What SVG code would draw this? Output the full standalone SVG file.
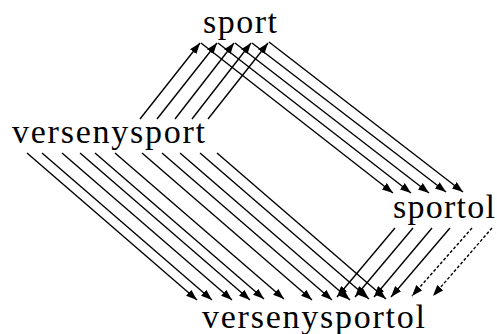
<svg xmlns="http://www.w3.org/2000/svg" width="497" height="334" viewBox="0 0 497 334">
<style>
.lbl{font-family:"Liberation Serif","Times New Roman",serif;font-size:34px;fill:#000}
.c{stroke:#000;stroke-width:1.4;fill:none;marker-end:url(#ah)}
.d{stroke-dasharray:3,2}
</style>
<defs>
<marker id="ah" markerUnits="userSpaceOnUse" markerWidth="12" markerHeight="8" refX="11" refY="4" orient="auto">
<path d="M0,0 L11,4 L0,8 z" fill="#000"/>
</marker>
</defs>
<rect width="497" height="334" fill="#fff"/>
<g id="connectors">
<line class="c" x1="140" y1="119" x2="200" y2="43"/>
<line class="c" x1="157" y1="119" x2="217" y2="43"/>
<line class="c" x1="175" y1="119" x2="234" y2="43"/>
<line class="c" x1="192" y1="119" x2="251" y2="43"/>
<line class="c" x1="208" y1="119" x2="268" y2="43"/>
<line class="c" x1="201" y1="43" x2="393" y2="193"/>
<line class="c" x1="218" y1="43" x2="411" y2="193"/>
<line class="c" x1="235" y1="43" x2="429" y2="193"/>
<line class="c" x1="252" y1="43" x2="446" y2="192"/>
<line class="c" x1="269" y1="42" x2="463" y2="192"/>
<line class="c" x1="27" y1="153" x2="197" y2="300"/>
<line class="c" x1="42" y1="153" x2="212" y2="300"/>
<line class="c" x1="62" y1="153" x2="232" y2="300"/>
<line class="c" x1="80" y1="153" x2="250" y2="300"/>
<line class="c" x1="95" y1="153" x2="264" y2="299"/>
<line class="c" x1="115" y1="153" x2="284" y2="299"/>
<line class="c" x1="142" y1="153" x2="312" y2="300"/>
<line class="c" x1="162" y1="153" x2="332" y2="300"/>
<line class="c" x1="180" y1="153" x2="350" y2="300"/>
<line class="c" x1="200" y1="153" x2="369" y2="299"/>
<line class="c" x1="217" y1="153" x2="386" y2="299"/>
<line class="c" x1="395" y1="228" x2="337" y2="297"/>
<line class="c" x1="413" y1="228" x2="355" y2="297"/>
<line class="c" x1="432" y1="228" x2="374" y2="297"/>
<line class="c" x1="450" y1="228" x2="391" y2="297"/>
<line class="c d" x1="472" y1="228" x2="412" y2="296"/>
<line class="c d" x1="492" y1="228" x2="433" y2="296"/>
</g>
<g id="sport"><text class="lbl" x="203" y="33" textLength="74" lengthAdjust="spacing">sport</text></g>
<g id="versenysport"><text class="lbl" x="12" y="143" textLength="193" lengthAdjust="spacing">versenysport</text></g>
<g id="sportol"><text class="lbl" x="393" y="218" textLength="102" lengthAdjust="spacing">sportol</text></g>
<g id="versenysportol"><text class="lbl" x="202" y="328" textLength="223" lengthAdjust="spacing">versenysportol</text></g>
</svg>
